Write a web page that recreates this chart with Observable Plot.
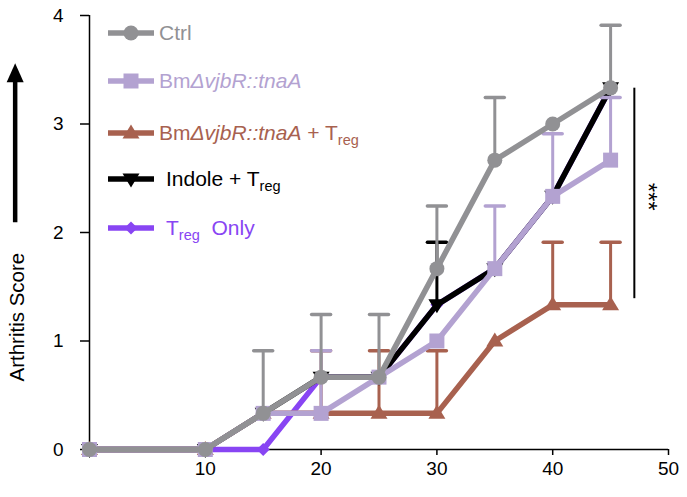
<!DOCTYPE html>
<html><head><meta charset="utf-8">
<script src="https://cdn.jsdelivr.net/npm/d3@7"></script>
<script src="https://cdn.jsdelivr.net/npm/@observablehq/plot@0.6"></script>
<style>
body{margin:0;background:#fff;}
#wrap{position:relative;width:687px;height:497px;font-family:'Liberation Sans',Arial,sans-serif;}
#legend{position:absolute;left:108px;top:0;}
.row{position:absolute;left:0;display:flex;align-items:center;white-space:nowrap;font-size:21px;height:24px;}
.row svg{display:block;overflow:visible;}
.row sub{font-size:14.5px;vertical-align:baseline;position:relative;top:5px;}
</style></head><body><div id="wrap"><div id="legend"></div></div>
<script>
// ---- data ----
const days = [0, 10, 15, 20, 25, 30, 35, 40, 45];
const ctrl      = [0, 0, 0.333, 0.667, 0.667, 1.667, 2.667, 3.0, 3.333];
const ctrlErr   = [0, 0, 0.577, 0.577, 0.577, 0.577, 0.577, 0, 0.577];
const bm        = [0, 0, 0.333, 0.333, 0.667, 1.0, 1.667, 2.333, 2.667];
const bmErr     = [0, 0, 0, 0.577, 0, 0, 0.577, 0.577, 0.577];
const bmTreg    = [0, 0, 0.333, 0.333, 0.333, 0.333, 1.0, 1.333, 1.333];
const bmTregErr = [0, 0, 0, 0.577, 0.577, 0.577, 0, 0.577, 0.577];
const indole    = [0, 0, 0.333, 0.667, 0.667, 1.333, 1.667, 2.333, 3.333];
const indoleErr = [0, 0, 0, 0, 0, 0.577, 0, 0, 0];
const tregOnly  = [0, 0, 0, 0.667, 0.667, 1.333, 1.667, 2.333, 3.333];
const tregOnlyErr = [0, 0, 0, 0, 0, 0, 0, 0, 0];

const seriesNames = ["Ctrl", "BmΔvjbR::tnaA", "BmΔvjbR::tnaA + Treg", "Indole + Treg", "Treg Only"];
const legendLabels = ["Ctrl", "Bm<i>ΔvjbR::tnaA</i>", "Bm<i>ΔvjbR::tnaA</i> + T<sub>reg</sub>", "Indole + T<sub>reg</sub>", "T<sub>reg</sub>&nbsp; Only"];
const seriesColors = ["#919194", "#b3a2d1", "#a8614f", "#000000", "#8845f3"];
const textColors = ["#919194", "#b3a2d1", "#a8614f", "#000000", "#8845f3"];
const xTicks = [0, 10, 20, 30, 40, 50];
const yTicks = [0, 1, 2, 3, 4];
const yLabel = "Arthritis Score";
const sigLabel = "***";
const sigBracket = [{x: 47.05, y1: 1.39, y2: 3.33}];
const sigText = [{x: 48.2, y: 2.33}];
const yLabelPos = [{x: -6.25, y: 1.22}];
const arrowPos = [{x: -6.42, tail: 2.09, base: 3.39, tip: 3.56}];

// ---- symbols ----
const symCircle = {draw(c){c.moveTo(7.5,0);c.arc(0,0,7.5,0,2*Math.PI);c.closePath();}};
const symSquare = {draw(c){c.rect(-7.5,-7.5,15,15);}};
const symTriUp = {draw(c){c.moveTo(0,-8.5);c.lineTo(8.5,5.5);c.lineTo(-8.5,5.5);c.closePath();}};
const symTriDown = {draw(c){c.moveTo(0,8.5);c.lineTo(8.5,-5.5);c.lineTo(-8.5,-5.5);c.closePath();}};
const symDiamond = {draw(c){c.moveTo(0,-6.5);c.lineTo(6.5,0);c.lineTo(0,6.5);c.lineTo(-6.5,0);c.closePath();}};
const symCap = {draw(c){c.moveTo(-9.5,0);c.lineTo(9.5,0);}};
const symArrow = {draw(c){c.moveTo(0,0);c.lineTo(8.5,19);c.lineTo(-8.5,19);c.closePath();}};
const seriesSymbols = [symCircle, symSquare, symTriUp, symTriDown, symDiamond];

const means = [ctrl, bm, bmTreg, indole, tregOnly];
const errs = [ctrlErr, bmErr, bmTregErr, indoleErr, tregOnlyErr];

function rowsOf(i) {
  return days.map((d, j) => ({series: seriesNames[i], day: d, mean: means[i][j], err: errs[i][j]}));
}

const drawOrder = [4, 2, 3, 1, 0];
const dataMarks = [];
for (const i of drawOrder) {
  const rows = rowsOf(i);
  const eb = rows.filter(r => r.err > 0);
  const col = seriesColors[i];
  dataMarks.push(
    Plot.ruleX(eb, {x: "day", y1: "mean", y2: d => d.mean + d.err, stroke: col, strokeWidth: 3}),
    Plot.dot(eb, {x: "day", y: d => d.mean + d.err, symbol: symCap, r: 5, fill: "none", stroke: col, strokeWidth: 3.5, strokeLinecap: "round"}),
    Plot.line(rows, {x: "day", y: "mean", stroke: col, strokeWidth: 5.5, strokeLinejoin: "round"}),
    Plot.dot(rows, {x: "day", y: "mean", symbol: seriesSymbols[i], r: 5, fill: col, stroke: "none"})
  );
}

const chart = Plot.plot({
  width: 687, height: 497,
  marginLeft: 89, marginRight: 19, marginTop: 15, marginBottom: 48,
  x: {domain: [0, 50]},
  y: {domain: [0, 4]},
  style: {fontFamily: "'Liberation Sans', Arial, sans-serif", fontSize: "19px", color: "#000", background: "#fff"},
  marks: [
    Plot.ruleY([0], {stroke: "#000", strokeWidth: 1.5}),
    Plot.ruleX([0], {stroke: "#000", strokeWidth: 1.5}),
    Plot.axisX({ticks: xTicks, tickFormat: d => d === 0 ? "" : String(d), tickSize: 6, tickPadding: 6, strokeWidth: 1.5, label: null, fontSize: 19}),
    Plot.axisY({ticks: yTicks, tickFormat: d => String(d), tickSize: 9, tickPadding: 17, strokeWidth: 1.5, label: null, fontSize: 19}),
    ...dataMarks,
    Plot.ruleX(sigBracket, {x: "x", y1: "y1", y2: "y2", stroke: "#000", strokeWidth: 2}),
    Plot.text(sigText, {x: "x", y: "y", text: () => sigLabel, rotate: 90, fontSize: 24, fill: "#000"}),
    Plot.text(yLabelPos, {x: "x", y: "y", text: () => yLabel, rotate: -90, fontSize: 20.5, fill: "#000"}),
    Plot.ruleX(arrowPos, {x: "x", y1: "tail", y2: "base", stroke: "#000", strokeWidth: 4.5}),
    Plot.dot(arrowPos, {x: "x", y: "tip", symbol: symArrow, r: 5, fill: "#000", stroke: "none"})
  ]
});
document.getElementById("wrap").prepend(chart);

// ---- legend ----
const legendY = [33, 81, 133, 179, 228];
const legendGap = [5, 5, 5, 12, 12];
const legend = document.getElementById("legend");
seriesNames.forEach((name, i) => {
  const p = d3.path(); seriesSymbols[i].draw(p);
  const row = document.createElement("div");
  row.className = "row";
  row.style.top = (legendY[i] - 12) + "px";
  row.innerHTML = `<svg width="46" height="24"><line x1="0" x2="46" y1="12" y2="12" stroke="${seriesColors[i]}" stroke-width="5.5"/><path transform="translate(23,12)" d="${p.toString()}" fill="${seriesColors[i]}"/></svg><span style="margin-left:${legendGap[i]}px;color:${textColors[i]}">${legendLabels[i]}</span>`;
  legend.appendChild(row);
});
</script></body></html>
